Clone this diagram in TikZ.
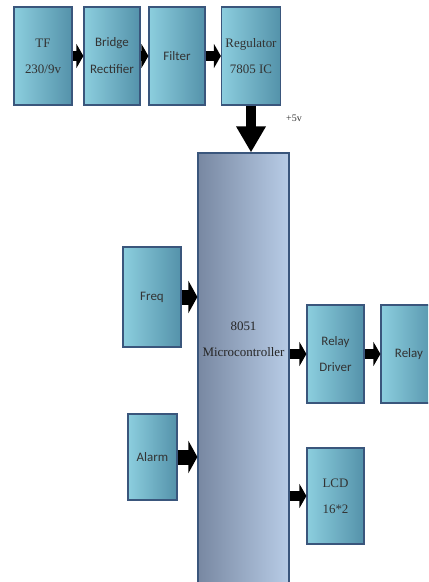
\documentclass[tikz,border=0pt]{standalone}
\usepackage{fontspec}
\setmainfont{Liberation Serif}
\newfontfamily\boxsans{Carlito}
\usetikzlibrary{arrows.meta, positioning, calc}
\definecolor{boxlight}{RGB}{140,206,222}
\definecolor{boxdark}{RGB}{84,146,170}
\definecolor{boxline}{RGB}{58,86,124}
\definecolor{mculeft}{RGB}{120,136,162}
\definecolor{mcuright}{RGB}{184,204,230}

\begin{document}
\begin{tikzpicture}[
  x=1bp, y=-1bp,
  blk/.style={draw=boxline, line width=1.2bp, left color=boxlight, right color=boxdark, inner sep=0pt, minimum width=57bp, minimum height=98bp, align=center, text=black!80},
  sertxt/.style={font=\fontsize{13}{26}\selectfont},
  sanstxt/.style={font=\boxsans\fontsize{13}{27}\selectfont},
  mcubox/.style={draw=boxline, line width=1.2bp, left color=mculeft, right color=mcuright, inner sep=0pt, minimum width=91bp, minimum height=450bp},
  arr/.style={line width=10bp, -{Triangle[width=24bp,length=7bp]}},
  bigarr/.style={line width=15bp, -{Triangle[width=32bp,length=9bp]}},
  downarr/.style={line width=10bp, -{Triangle[width=28bp,length=26bp]}}
]
\clip (0,0) rectangle (428,582);
\fill[white] (0,0) rectangle (428,582);

\node[blk, sertxt, minimum width=58bp] (tf) at (43,56) {TF\\230/9v};
\node[blk, sanstxt, minimum width=56bp] (rect) at (112,56) {Bridge\\Rectifier};
\node[blk, sanstxt, minimum width=56bp] (filter) at (177,56) {Filter};
\node[blk, sertxt, minimum width=59bp] (reg) at (251,56) {Regulator\\7805 IC};

\node[mcubox] (mcu) at (243.5,378) {};
\node[sertxt, align=center, text=black!85] (mcutxt) at (243.5,339) {8051\\Microcontroller};

\node[blk, sanstxt, minimum width=58bp, minimum height=100bp] (freq) at (152,297) {Freq};
\node[blk, sanstxt, minimum width=49bp, minimum height=86bp] (alarm) at (152.5,457) {Alarm};
\node[blk, sanstxt] (drv) at (335.5,354) {Relay\\Driver};
\node[blk, sanstxt, minimum width=56bp] (relay) at (409,354) {Relay};
\node[blk, sertxt, minimum height=96bp] (lcd) at (335.5,496) {LCD\\16*2};

\node[font=\fontsize{10}{12}\selectfont, text=black!80] (vcc) at (294,118) {+5v};

\draw[arr] (tf) -- (rect);
\draw[arr] (rect) -- (filter);
\draw[arr] (filter) -- (reg);
\draw[downarr] (reg.south) -- (reg.south |- mcu.north);
\draw[bigarr] (freq.east) -- (freq.east -| mcu.west);
\draw[bigarr] (alarm.east) -- (alarm.east -| mcu.west);
\draw[arr] (mcu.east |- drv.west) -- (drv.west);
\draw[arr] (drv) -- (relay);
\draw[arr] (mcu.east |- lcd.west) -- (lcd.west);
\end{tikzpicture}
\end{document}
